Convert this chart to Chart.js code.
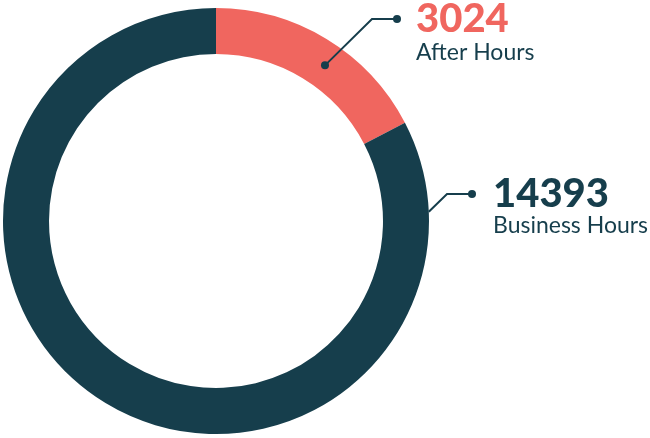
<!DOCTYPE html>
<html>
<head>
<meta charset="utf-8">
<script src="https://cdn.jsdelivr.net/npm/chart.js@4/dist/chart.umd.min.js"></script>
<style>
  html, body { margin: 0; padding: 0; background: #fff; }
  #wrap { width: 650px; height: 438px; position: relative; }
</style>
</head>
<body>
<div id="wrap"><canvas id="donut"></canvas></div>
<script>
// Chart data
const labels = ['After Hours', 'Business Hours'];
const values = [3024, 14393];
const colors = ['#F0665F', '#163E4C'];

// Callout settings per slice: angle on ring (deg from top, clockwise), elbow and end offsets
const callouts = [
    { angle: 35, ringPos: 0.5, elbow: [372, 19], end: [397, 19], text: [416, 32, 60], numColor: '#F0665F' },
    { angle: 87.5, ringPos: 1.0, elbow: [447, 194], end: [472, 194], text: [493, 207, 233], numColor: '#163E4C' }
];

const calloutPlugin = {
    id: 'callouts',
    afterDraw(chart) {
        const ctx = chart.ctx;
        const meta = chart.getDatasetMeta(0);
        meta.data.forEach((arc, i) => {
            const c = callouts[i];
            const props = arc.getProps(['x', 'y', 'innerRadius', 'outerRadius'], true);
            const r = props.innerRadius + (props.outerRadius - props.innerRadius) * c.ringPos;
            const a = c.angle * Math.PI / 180;
            const sx = props.x + r * Math.sin(a);
            const sy = props.y - r * Math.cos(a);

            ctx.save();
            ctx.strokeStyle = '#163E4C';
            ctx.fillStyle = '#163E4C';
            ctx.lineWidth = 2;
            ctx.beginPath();
            ctx.moveTo(sx, sy);
            ctx.lineTo(c.elbow[0], c.elbow[1]);
            ctx.lineTo(c.end[0], c.end[1]);
            ctx.stroke();
            ctx.beginPath();
            ctx.arc(c.end[0], c.end[1], 4, 0, Math.PI * 2);
            ctx.fill();
            if (c.ringPos < 1) {
                ctx.beginPath();
                ctx.arc(sx, sy, 4, 0, Math.PI * 2);
                ctx.fill();
            }

            ctx.textBaseline = 'alphabetic';
            ctx.textAlign = 'left';
            ctx.fillStyle = c.numColor;
            ctx.font = '900 40px Lato';
            ctx.fillText(String(values[i]), c.text[0], c.text[1]);
            ctx.fillStyle = '#163E4C';
            ctx.font = '23px Lato';
            ctx.fillText(labels[i], c.text[0], c.text[2]);
            ctx.restore();
        });
    }
};

const ctx = document.getElementById('donut').getContext('2d');
window.donutChart = new Chart(ctx, {
    type: 'doughnut',
    data: {
        labels: labels,
        datasets: [{
            data: values,
            backgroundColor: colors,
            borderWidth: 0
        }]
    },
    options: {
        responsive: true,
        maintainAspectRatio: false,
        animation: false,
        cutout: '78.4%',
        layout: { padding: { left: 3, right: 221, top: 8, bottom: 4 } },
        plugins: {
            legend: { display: false },
            tooltip: { enabled: false }
        }
    },
    plugins: [calloutPlugin]
});
</script>
</body>
</html>
